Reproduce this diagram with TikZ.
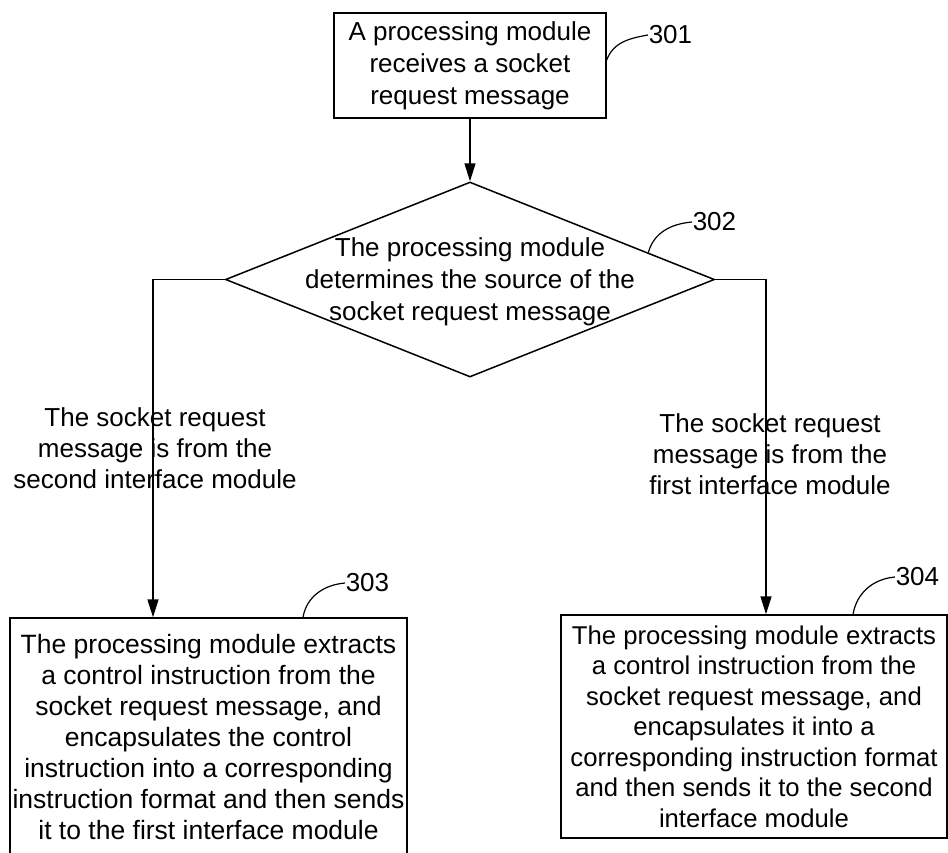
\documentclass[tikz,border=0pt]{standalone}
\usepackage{fontspec}
\setmainfont{Liberation Sans}
\usetikzlibrary{shapes.geometric,arrows.meta,calc}

\begin{document}
\begin{tikzpicture}[x=1pt,y=-1pt,line width=1.5pt,
    txt/.style={font=\fontsize{26}{31}\selectfont,align=center,inner sep=0pt},
    stepbox/.style={draw,rectangle,txt},
    arr/.style={-{Triangle[length=18pt,width=11pt]}},
    lead/.style={line width=1.2pt}]
            \useasboundingbox (0,0) rectangle (948,852);

            \node[stepbox,minimum width=272pt,minimum height=105pt,font=\fontsize{26}{32}\selectfont] (recv) at (470,65.5) {A processing module\\receives a socket\\request message};
            \node[draw,diamond,minimum width=489pt,minimum height=195pt,inner sep=0pt] (dec) at (470,279.5) {};
            \node[txt,font=\fontsize{26}{32}\selectfont] (dectxt) at (470,282) {The processing module\\determines the source of the\\socket request message};
            \node[stepbox,minimum width=397pt,minimum height=238pt,font=\fontsize{26.5}{31}\selectfont] (fwd) at (208.5,737) {The processing module extracts\\a control instruction from the\\socket request message, and\\encapsulates the control\\instruction into a corresponding\\instruction format and then sends\\it to the first interface module};
            \node[stepbox,minimum width=386pt,minimum height=223pt,font=\fontsize{25.7}{30.5}\selectfont] (cmd) at (754,726.5) {The processing module extracts\\a control instruction from the\\socket request message, and\\encapsulates it into a\\corresponding instruction format\\and then sends it to the second\\interface module};

            \draw[arr] (recv) -- (dec.north);
            \draw[arr] (dec.west) -| ([xshift=-55.5pt]fwd.north);
            \draw[arr] (dec.east) -| ([xshift=12pt]cmd.north);
            \node[txt] (fromsec) at (155,448) {The socket request\\message is from the\\second interface module};
            \node[txt] (fromfst) at (770,454) {The socket request\\message is from the\\first interface module};

            \node[txt,anchor=west] (n301) at (648,35) {301};
            \node[txt,anchor=west] (n302) at (692,222) {302};
            \node[txt,anchor=west] (n303) at (345,583) {303};
            \node[txt,anchor=west] (n304) at (895,577) {304};
            \draw[lead] ([yshift=5.5pt]recv.east) to[out=70,in=190] (n301.west);
            \draw[lead] ($(dec.north)!0.727!(dec.east)$) to[out=75,in=185] (n302.west);
            \draw[lead] ([xshift=94.5pt]fwd.north) to[out=80,in=185] (n303.west);
            \draw[lead] ([xshift=99pt]cmd.north) to[out=80,in=185] (n304.west);
        \end{tikzpicture}
\end{document}
